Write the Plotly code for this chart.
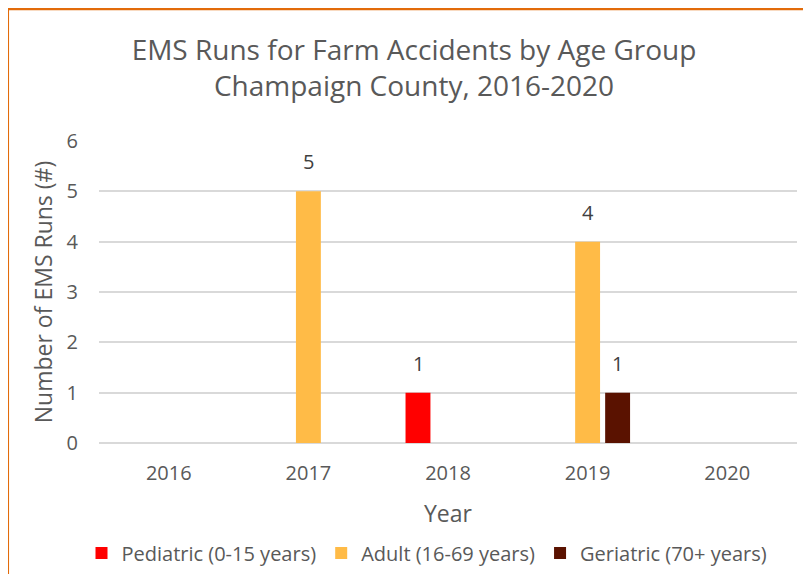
import plotly.graph_objects as go

years = ["2016", "2017", "2018", "2019", "2020"]
pediatric = [0, 0, 1, 0, 0]
adult = [0, 5, 0, 4, 0]
geriatric = [0, 0, 0, 1, 0]

series_names = ["Pediatric (0-15 years)", "Adult (16-69 years)", "Geriatric (70+ years)"]
series_values = [pediatric, adult, geriatric]
series_colors = ["#FF0000", "#FFBB47", "#5A1200"]

title_text = "EMS Runs for Farm Accidents by Age Group<br>Champaign County, 2016-2020"
x_title = "Year"
y_title = "Number of EMS Runs (#)"

FONT = "Open Sans"
GREY = "#595959"

# page has an 8px body margin; figure fills the rest of the 811x574 window
OFF = 8
W0, H0 = 811 - OFF, 574 - OFF
L, T = 99 - OFF, 141 - OFF
R = W0 - (797 - OFF)
B = H0 - (443 - OFF)
pw = W0 - L - R
ph = H0 - T - B
slot_px = 30  # horizontal offset of each bar within a group

fig = go.Figure()
for i, (name, vals, col) in enumerate(zip(series_names, series_values, series_colors)):
    fig.add_trace(go.Bar(
        x=years, y=vals, name=name, marker=dict(color=col, line=dict(width=0)),
    ))
    for j, v in enumerate(vals):
        if v:
            # category axes take the category index for annotation positions
            fig.add_annotation(x=j, y=v, xref="x", yref="y", text=str(v), showarrow=False,
                               xshift=(i - 1) * slot_px, yshift=14, yanchor="bottom",
                               font=dict(family=FONT, size=20, color="#404040"))


def px_x(p):
    return (p - OFF - L) / pw


def px_y(p):
    return (H0 - B - (p - OFF)) / ph


border = "#E26B0A"
fig.add_shape(type="line", xref="paper", yref="paper",
              x0=px_x(6.5), x1=px_x(820), y0=px_y(9), y1=px_y(9),
              line=dict(color=border, width=2.5))
fig.add_shape(type="line", xref="paper", yref="paper",
              x0=px_x(7.8), x1=px_x(7.8), y0=px_y(8), y1=px_y(580),
              line=dict(color=border, width=2.5))

fig.update_layout(
    width=W0, height=H0,
    margin=dict(l=L, r=R, t=T, b=B, autoexpand=False),
    paper_bgcolor="white", plot_bgcolor="white",
    font=dict(family=FONT, color=GREY),
    title=dict(text=title_text, x=(414 - OFF) / W0, xanchor="center",
               y=1 - 52 / H0, yanchor="top", yref="container",
               font=dict(family=FONT, size=28, color=GREY)),
    barmode="group", bargap=0.355, bargroupgap=0.17,
    showlegend=True,
    legend=dict(orientation="h", x=px_x(427), xanchor="center",
                y=px_y(553), yanchor="middle",
                font=dict(family=FONT, size=20, color=GREY),
                itemwidth=30, traceorder="normal"),
    xaxis=dict(type="category", categoryorder="array", categoryarray=years,
               range=[-0.5, len(years) - 0.5], autorange=False,
               title=dict(text=x_title, font=dict(family=FONT, size=23, color=GREY), standoff=20),
               tickfont=dict(family=FONT, size=20, color=GREY), automargin=False,
               showgrid=False, showline=False, ticks="", ticklabelstandoff=16),
    yaxis=dict(title=dict(text=y_title, font=dict(family=FONT, size=23, color=GREY), standoff=7),
               range=[0, 6], autorange=False, dtick=1, tickfont=dict(family=FONT, size=20, color=GREY),
               automargin=False,
               showgrid=True, gridcolor="#D9D9D9", gridwidth=1.5,
               zeroline=True, zerolinecolor="#D9D9D9", zerolinewidth=1.5,
               showline=False, ticks="", ticklabelstandoff=20),
)

fig.write_html("out.html")
